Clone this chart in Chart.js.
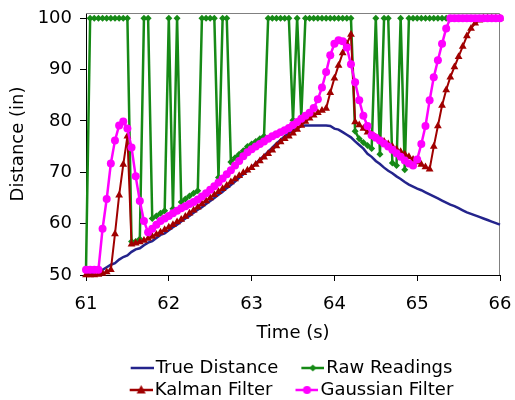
<!DOCTYPE html>
<html><head><meta charset="utf-8">
<script src="https://cdn.jsdelivr.net/npm/chart.js@4.4.0/dist/chart.umd.min.js"></script>
<style>html,body{margin:0;padding:0;background:#fff}#wrap{width:515px;height:400px}</style>
</head><body><div id="wrap"><canvas id="c" width="515" height="400"></canvas></div>
<script>
const times = [61.00,61.05,61.10,61.15,61.20,61.25,61.30,61.35,61.40,61.45,
61.50,61.55,61.60,61.65,61.70,61.75,61.80,61.85,61.90,61.95,
62.00,62.05,62.10,62.15,62.20,62.25,62.30,62.35,62.40,62.45,
62.50,62.55,62.60,62.65,62.70,62.75,62.80,62.85,62.90,62.95,
63.00,63.05,63.10,63.15,63.20,63.25,63.30,63.35,63.40,63.45,
63.50,63.55,63.60,63.65,63.70,63.75,63.80,63.85,63.90,63.95,
64.00,64.05,64.10,64.15,64.20,64.25,64.30,64.35,64.40,64.45,
64.50,64.55,64.60,64.65,64.70,64.75,64.80,64.85,64.90,64.95,
65.00,65.05,65.10,65.15,65.20,65.25,65.30,65.35,65.40,65.45,
65.50,65.55,65.60,65.65,65.70,65.75,65.80,65.85,65.90,65.95,66.00];

const trueDistance = [50.0,50.2,50.5,50.8,51.0,51.5,52.0,52.3,53.0,53.5,
53.8,54.5,55.0,55.2,55.8,56.3,56.6,57.2,57.8,58.1,
58.7,59.3,59.8,60.4,61.0,61.5,62.1,62.7,63.2,63.8,
64.4,65.0,65.6,66.2,66.9,67.5,68.2,68.9,69.6,70.3,
71.0,71.7,72.5,73.2,74.0,74.8,75.6,76.3,77.0,77.6,
78.2,78.6,79.0,79.1,79.1,79.1,79.1,79.1,79.1,79.0,
78.5,78.3,77.8,77.3,76.8,76.0,75.3,74.6,73.6,73.0,
72.2,71.6,70.9,70.3,69.8,69.2,68.7,68.1,67.6,67.2,
66.8,66.5,66.1,65.7,65.3,64.9,64.5,64.1,63.7,63.4,
63.0,62.6,62.2,61.9,61.6,61.3,61.0,60.7,60.4,60.1,59.8];

const rawReadings = [51,100,100,100,100,100,100,100,100,100,
100,56.5,56.5,57,100,100,61,61.5,62,62.5,
100,62.9,100,64.2,64.8,65.4,65.9,66.4,100,100,
100,100,69,100,100,72,72.8,73.5,74.2,75,
75.5,76,76.5,77,100,100,100,100,100,100,
80.1,100,80.7,100,100,100,100,100,100,100,
100,100,100,100,100,78,76.5,75.8,75.2,74.6,
100,73.5,100,100,71.8,71.3,100,70.5,100,100,
100,100,100,100,100,100,100,100,100,100,
100,100,100,100,100,100,100,100,100,100,100];

const kalmanFilter = [50.0,50.0,50.0,50.1,50.3,50.6,51.0,58.0,65.5,71.5,
77.0,56.0,56.2,56.4,56.7,57.1,57.5,57.9,58.3,58.8,
59.3,59.8,60.3,60.8,61.4,62.0,62.6,63.2,63.8,64.4,
65.0,65.6,66.2,66.8,67.4,68.1,68.7,69.3,69.9,70.4,
70.9,71.5,72.2,72.9,73.6,74.3,75.1,75.9,76.5,77.0,
77.6,78.3,79.1,79.9,80.5,81.1,81.6,82.0,82.4,85.5,
88.3,90.8,93.2,95.0,96.8,79.8,79.2,78.5,77.8,77.3,
76.8,76.4,76.0,75.5,75.0,74.5,74.0,73.5,73.0,72.5,
72.0,71.5,71.0,70.6,75.0,79.0,83.0,86.0,88.5,90.5,
92.5,94.5,96.5,98.0,99.0,99.6,100,100,100,100,100];

const gaussianFilter = [51,51,51,51,59.0,64.8,71.7,76.2,79.1,79.9,
78.5,74.8,69.2,64.4,60.5,58.3,59.0,59.8,60.5,61.0,
61.5,62.0,62.5,63.0,63.4,63.8,64.2,64.7,65.3,65.9,
66.6,67.3,68.0,68.8,69.6,70.4,71.3,72.2,73.1,73.9,
74.5,75.0,75.5,76.0,76.5,77.0,77.4,77.8,78.2,78.6,
79.2,79.8,80.4,81.0,81.6,82.5,84.2,86.5,89.5,92.8,
95.0,95.7,95.5,94.3,91.0,87.5,84.0,81.0,79.0,77.2,
76.7,76.2,75.6,75.0,74.4,73.7,73.0,72.3,71.7,71.3,
72.5,75.5,79.0,84.0,88.5,91.8,95.0,98.0,100,100,
100,100,100,100,100,100,100,100,100,100,100];

const seriesNames = ['True Distance','Raw Readings','Kalman Filter','Gaussian Filter'];
const seriesColors = ['#24248C','#168A16','#A00000','#FF00FF'];
const xTicks = [61,62,63,64,65,66];
const yTicks = [50,60,70,80,90,100];

const FONT = {family: 'DejaVu Sans', size: 18};

function makeSwatch(color, lw, style, r) {
  const W = 49, H = 14;
  const c = document.createElement('canvas');
  c.width = W; c.height = H;
  const g = c.getContext('2d');
  g.strokeStyle = color; g.fillStyle = color; g.lineWidth = lw;
  g.beginPath(); g.moveTo(26, H/2); g.lineTo(49, H/2); g.stroke();
  const cx = 37.5, cy = H/2;
  g.beginPath();
  if (style === 'circle') { g.arc(cx, cy, r, 0, Math.PI*2); }
  else if (style === 'triangle') { g.moveTo(cx, cy - r*1.1); g.lineTo(cx + r, cy + r*0.8); g.lineTo(cx - r, cy + r*0.8); g.closePath(); }
  else if (style === 'rectRot') { g.moveTo(cx, cy - r); g.lineTo(cx + r, cy); g.lineTo(cx, cy + r); g.lineTo(cx - r, cy); g.closePath(); }
  if (style) g.fill();
  return c;
}
const swatches = [
  makeSwatch(seriesColors[0], 2.5, null, 0),
  makeSwatch(seriesColors[1], 2.5, 'rectRot', 3.5),
  makeSwatch(seriesColors[2], 2.5, 'triangle', 4.5),
  makeSwatch(seriesColors[3], 2.5, 'circle', 4)
];

const framePlugin = {
  id: 'frame',
  afterLayout(chart) {
    const lg = chart.legend;
    if (lg) { lg.left -= 22; lg.top += 9; lg.bottom += 9; }
  },
  beforeDatasetsDraw(chart) {
    const {ctx, chartArea: a} = chart;
    ctx.save();
    ctx.strokeStyle = '#808080'; ctx.lineWidth = 1;
    ctx.beginPath();
    ctx.moveTo(a.left, a.top + 0.5);
    ctx.lineTo(a.right - 0.5, a.top + 0.5);
    ctx.lineTo(a.right - 0.5, a.bottom);
    ctx.stroke();
    ctx.restore();
  }
};

new Chart(document.getElementById('c'), {
  type: 'line',
  data: {
    labels: times,
    datasets: [
      {label: seriesNames[0], data: trueDistance, borderColor: seriesColors[0], backgroundColor: seriesColors[0], borderWidth: 2.5, pointRadius: 0, order: 4, clip: false},
      {label: seriesNames[1], data: rawReadings, borderColor: seriesColors[1], backgroundColor: seriesColors[1], borderWidth: 2.5, pointStyle: 'rectRot', pointRadius: 3.5, pointBorderWidth: 0, order: 3, clip: false},
      {label: seriesNames[2], data: kalmanFilter, borderColor: seriesColors[2], backgroundColor: seriesColors[2], borderWidth: 2, pointStyle: 'triangle', pointRadius: 4.5, pointBorderWidth: 0, order: 2, clip: false},
      {label: seriesNames[3], data: gaussianFilter, borderColor: seriesColors[3], backgroundColor: seriesColors[3], borderWidth: 2.5, pointStyle: 'circle', pointRadius: 4, pointBorderWidth: 0, order: 1, clip: false}
    ]
  },
  options: {
    responsive: false,
    animation: false,
    events: [],
    layout: {padding: {top: 13, right: 15, left: 0, bottom: 0}},
    plugins: {
      tooltip: {enabled: false},
      legend: {
        position: 'bottom',
        fullSize: false,
        labels: {
          usePointStyle: true,
          pointStyleWidth: 35,
          padding: 4,
          font: FONT,
          color: '#000',
          generateLabels(chart) {
            return chart.data.datasets.map((ds, i) => ({
              text: ds.label, pointStyle: swatches[i], datasetIndex: i,
              hidden: false, lineWidth: 0, strokeStyle: 'rgba(0,0,0,0)', fillStyle: 'rgba(0,0,0,0)', fontColor: '#000'
            }));
          }
        }
      }
    },
    scales: {
      x: {
        type: 'linear', min: 61, max: 66,
        afterFit(s) { s.height = 71; s.paddingLeft = 0; s.paddingRight = 0; },
        afterBuildTicks(s) { s.ticks = xTicks.map(v => ({value: v})); },
        ticks: {font: FONT, color: '#000', padding: 13, maxRotation: 0},
        grid: {drawOnChartArea: false, drawTicks: true, tickLength: 6, color: '#000'},
        border: {display: true, color: '#000', width: 1},
        title: {display: true, text: 'Time (s)', font: FONT, color: '#000', padding: {top: 0, bottom: 2}}
      },
      y: {
        type: 'linear', min: 50, max: 101,
        afterFit(s) { s.width = 86; s.paddingTop = 0; s.paddingBottom = 0; },
        afterBuildTicks(s) { s.ticks = yTicks.map(v => ({value: v})); },
        ticks: {font: FONT, color: '#000', padding: 8},
        grid: {drawOnChartArea: false, drawTicks: true, tickLength: 6, color: '#000'},
        border: {display: true, color: '#000', width: 1},
        title: {display: true, text: 'Distance (in)', font: FONT, color: '#000', padding: {top: 8, bottom: 4}}
      }
    }
  },
  plugins: [framePlugin]
});
</script></body></html>
